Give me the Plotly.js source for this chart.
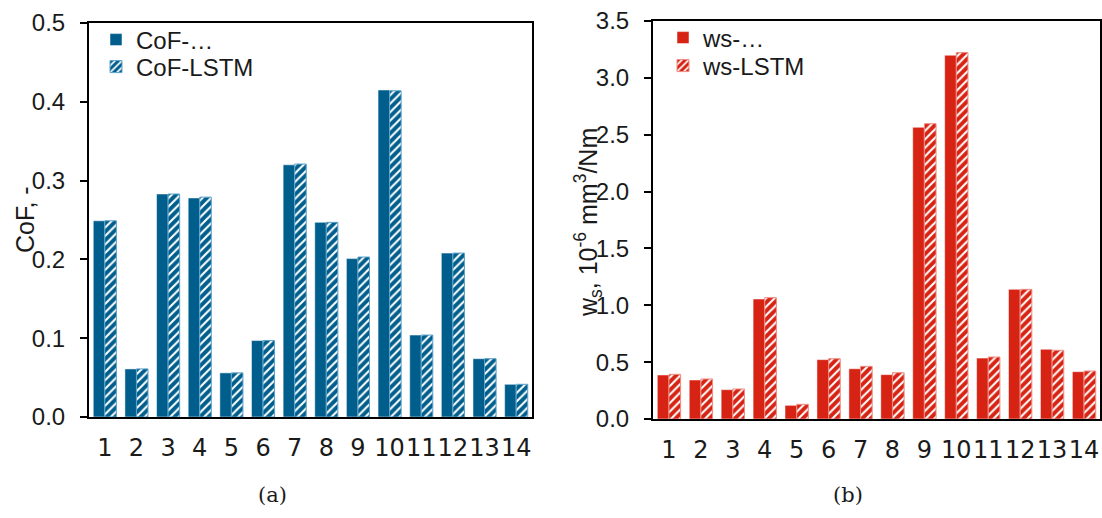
<!DOCTYPE html>
<html><head><meta charset="utf-8">
<script src="https://cdn.plot.ly/plotly-3.0.1.min.js"></script>
<style>html,body{margin:0;padding:0;background:#fff}#c{width:1102px;height:518px}</style>
</head><body><div id="c"></div>
<script>
const categories = ['1','2','3','4','5','6','7','8','9','10','11','12','13','14'];
const cofExp  = [0.249,0.061,0.283,0.278,0.056,0.097,0.320,0.247,0.201,0.415,0.104,0.208,0.074,0.0415];
const cofLstm = [0.249,0.061,0.283,0.279,0.056,0.097,0.321,0.247,0.203,0.414,0.104,0.208,0.074,0.0415];
const wsExp   = [0.387,0.343,0.258,1.055,0.120,0.522,0.442,0.390,2.565,3.199,0.536,1.140,0.613,0.416];
const wsLstm  = [0.393,0.352,0.264,1.067,0.129,0.530,0.463,0.407,2.597,3.222,0.545,1.140,0.604,0.422];
const names = ['CoF-…','CoF-LSTM','ws-…','ws-LSTM'];

const BLUE = '#005E8D', RED = '#D62314';
const F = (s, fam) => ({family:fam||'Arial', size:s||20, color:'#1a1a1a'});

const traces = [
  {type:'bar', x:categories, y:cofExp, name:names[0], xaxis:'x', yaxis:'y', legend:'legend',
   marker:{color:BLUE, line:{color:'#ffffff', width:0.5}}},
  {type:'bar', x:categories, y:cofLstm, name:names[1], xaxis:'x', yaxis:'y', legend:'legend2',
   marker:{color:BLUE, line:{color:'#5aa0c8', width:1},
     pattern:{shape:'/', fillmode:'replace', bgcolor:BLUE, fgcolor:'#ffffff', size:6, solidity:0.35}}},
  {type:'bar', x:categories, y:wsExp, name:names[2], xaxis:'x2', yaxis:'y2', legend:'legend3',
   marker:{color:RED, line:{color:'#ffffff', width:0.5}}},
  {type:'bar', x:categories, y:wsLstm, name:names[3], xaxis:'x2', yaxis:'y2', legend:'legend4',
   marker:{color:RED, line:{color:'#f08a80', width:1},
     pattern:{shape:'/', fillmode:'replace', bgcolor:RED, fgcolor:'#ffffff', size:6, solidity:0.35}}}
];

const W=1102, H=518;
const px = v => v/W, py = v => 1 - v/H;
const xbase = () => ({type:'category', showline:true, linecolor:'#000', linewidth:2, mirror:true, ticks:'',
  showgrid:false, zeroline:false, tickfont:F(24, 'DejaVu Sans'), tickangle:0, automargin:false, ticklabelstandoff:8});
const ybase = () => ({showline:true, linecolor:'#000', linewidth:2, mirror:true, ticks:'outside', ticklen:7,
  tickwidth:2, tickcolor:'#000', showgrid:false, zeroline:false, tickfont:F(24), tickformat:'.1f',
  automargin:false, ticklabelstandoff:10});
const leg = (x, y) => ({x:px(x), y:py(y), xanchor:'left', yanchor:'middle', bgcolor:'rgba(0,0,0,0)',
  font:F(24), tracegroupgap:0, itemwidth:30});

const layout = {
  width:W, height:H, margin:{l:0,r:0,t:0,b:0}, paper_bgcolor:'#fff', plot_bgcolor:'#fff',
  font:F(20), barmode:'group', bargap:0.27, bargroupgap:0, showlegend:true,
  xaxis:Object.assign(xbase(), {domain:[px(89), px(532)], anchor:'y'}),
  yaxis:Object.assign(ybase(), {domain:[py(417), py(23)], range:[0,0.5], dtick:0.1, anchor:'x'}),
  xaxis2:Object.assign(xbase(), {domain:[px(653), px(1100)], anchor:'y2'}),
  yaxis2:Object.assign(ybase(), {domain:[py(419), py(21)], range:[0,3.5], dtick:0.5, anchor:'x2'}),
  legend:leg(96, 40), legend2:leg(96, 67),
  legend3:leg(663, 38), legend4:leg(663, 66),
  annotations:[
    {xref:'paper', yref:'paper', x:px(25), y:py(220), text:'CoF, -', textangle:-90, showarrow:false,
     font:F(25), xanchor:'center', yanchor:'middle'},
    {xref:'paper', yref:'paper', x:px(588), y:py(223), text:'w<sub>s</sub>, 10<sup>-6</sup> mm<sup>3</sup>/Nm',
     textangle:-90, showarrow:false, font:F(25), xanchor:'center', yanchor:'middle'},
    {xref:'paper', yref:'paper', x:px(272), y:py(495), text:'(a)', showarrow:false,
     font:{family:'DejaVu Serif', size:21, color:'#1a1a1a'}, xanchor:'center', yanchor:'middle'},
    {xref:'paper', yref:'paper', x:px(848), y:py(495), text:'(b)', showarrow:false,
     font:{family:'DejaVu Serif', size:21, color:'#1a1a1a'}, xanchor:'center', yanchor:'middle'}
  ]
};

Plotly.newPlot('c', traces, layout, {staticPlot:true});
</script></body></html>
